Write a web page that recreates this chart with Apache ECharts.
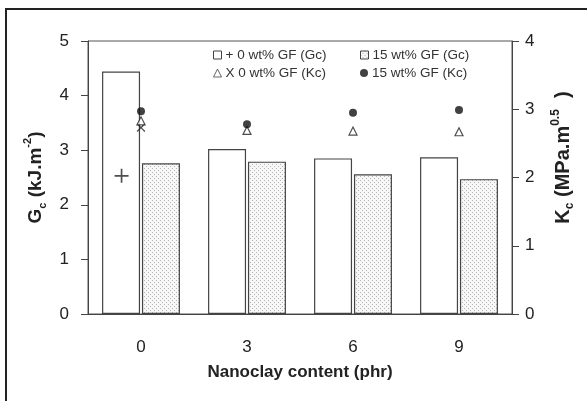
<!DOCTYPE html>
<html>
<head>
<meta charset="utf-8">
<script src="https://cdn.jsdelivr.net/npm/echarts@6/dist/echarts.min.js"></script>
<style>
	html, body { margin: 0; padding: 0; background: #fff; }
	#chart { width: 587px; height: 401px; }
</style>
</head>
<body>
<div id="chart"></div>
<script>
// 数据
var categories = ['0', '3', '6', '9'];
var gc0 = [4.44, 3.02, 2.85, 2.87];     // 0 wt% GF (Gc), 白柱
var gc15 = [2.76, 2.79, 2.56, 2.47];    // 15 wt% GF (Gc), 点柱
var kc0 = [2.83, 2.69, 2.68, 2.67];     // 0 wt% GF (Kc), 三角
var kc15 = [2.97, 2.78, 2.95, 2.99];    // 15 wt% GF (Kc), 圆点
var plusPts = [[-0.55, 2.53]];          // "+" 0 wt% GF (Gc)
var crossPts = [[0, 2.73]];             // "X" 0 wt% GF (Kc)

var FONT = 'Liberation Sans, Arial, sans-serif';
var INK = '#222';

// 点状填充
function dotPattern() {
	var c = document.createElement('canvas');
	c.width = 4;
	c.height = 4;
	var ctx = c.getContext('2d');
	ctx.fillStyle = '#f7f7f7';
	ctx.fillRect(0, 0, 4, 4);
	ctx.fillStyle = '#b4b4b4';
	ctx.fillRect(0, 0, 1, 1);
	ctx.fillRect(2, 2, 1, 1);
	return c;
}
var dots = { image: dotPattern(), repeat: 'repeat' };

// 实心的细十字，X 用旋转 45 度
var PLUS = 'path://M4.4,0L5.6,0L5.6,4.4L10,4.4L10,5.6L5.6,5.6L5.6,10L4.4,10L4.4,5.6L0,5.6L0,4.4L4.4,4.4Z';

function legendAt(left, top, name, icon, style) {
	return {
		left: left,
		top: top,
		itemWidth: 8,
		itemHeight: 8,
		itemGap: 4,
		selectedMode: false,
		data: [{ name: name, icon: icon, itemStyle: style }],
		formatter: function (n) {
			if (n === '0 wt% GF (Gc)') return '+ 0 wt% GF (Gc)';
			if (n === '0 wt% GF (Kc)') return 'X 0 wt% GF (Kc)';
			return n;
		},
		textStyle: { fontFamily: FONT, fontSize: 13.5, color: '#333', padding: [0, 0, 0, -1] }
	};
}

function axisName(size, small) {
	return {
		fontFamily: FONT,
		color: INK,
		rich: {
			b: { fontFamily: FONT, fontSize: size, fontWeight: 'bold', color: INK, lineHeight: 26 },
			sub: { fontFamily: FONT, fontSize: small, fontWeight: 'bold', color: INK, verticalAlign: 'bottom', lineHeight: 26 },
			sup: { fontFamily: FONT, fontSize: small, fontWeight: 'bold', color: INK, verticalAlign: 'top', lineHeight: 26 }
		}
	};
}

var option = {
	animation: false,
	backgroundColor: '#fff',
	graphic: [
		{ type: 'line', shape: { x1: 5, y1: 9, x2: 587, y2: 9 }, style: { stroke: INK, lineWidth: 2 } },
		{ type: 'line', shape: { x1: 6, y1: 9, x2: 6, y2: 401 }, style: { stroke: INK, lineWidth: 2 } }
	],
	legend: [
		legendAt(208, 43, '0 wt% GF (Gc)', 'rect', { color: '#fff', borderColor: '#444', borderWidth: 1 }),
		legendAt(355, 43, '15 wt% GF (Gc)', 'rect', { color: dots, borderColor: '#444', borderWidth: 1 }),
		legendAt(208, 61, '0 wt% GF (Kc)', 'triangle', { color: '#fff', borderColor: '#444', borderWidth: 1 }),
		legendAt(355, 61, '15 wt% GF (Kc)', 'circle', { color: '#111' })
	],
	grid: {
		left: 88,
		right: 75,
		top: 41,
		bottom: 87,
		show: true,
		borderColor: '#555',
		borderWidth: 1
	},
	xAxis: [{
		type: 'category',
		data: categories,
		axisLine: { lineStyle: { color: '#444', width: 1 } },
		axisTick: { length: 9, lineStyle: { color: '#444' } },
		axisLabel: { margin: 25, fontFamily: FONT, fontSize: 17, color: INK },
		name: 'Nanoclay content (phr)',
		nameLocation: 'middle',
		nameGap: 50,
		nameTextStyle: { fontFamily: FONT, fontSize: 17, fontWeight: 'bold', color: INK }
	}, {
		type: 'value',
		min: -1.5,
		max: 10.5,
		show: false
	}],
	yAxis: [{
		type: 'value',
		min: 0,
		max: 5,
		interval: 1,
		splitLine: { show: false },
		axisLine: { show: true, onZero: false, lineStyle: { color: '#444' } },
		axisTick: { show: true, length: 7, lineStyle: { color: '#444' } },
		axisLabel: { margin: 19, fontFamily: FONT, fontSize: 17, color: INK },
		name: '{b|G}{sub|c}{b| (kJ.m}{sup|-2}{b|)}',
		nameLocation: 'middle',
		nameRotate: 90,
		nameGap: 36,
		nameTextStyle: axisName(19, 11)
	}, {
		type: 'value',
		min: 0,
		max: 4,
		interval: 1,
		position: 'right',
		splitLine: { show: false },
		axisLine: { show: true, onZero: false, lineStyle: { color: '#444' } },
		axisTick: { show: true, length: 7, lineStyle: { color: '#444' } },
		axisLabel: { margin: 13, fontFamily: FONT, fontSize: 17, color: INK },
		name: '{b|K}{sub|c}{b| (MPa.m}{sup|0.5}{b|  )}',
		nameLocation: 'middle',
		nameRotate: 90,
		nameGap: 38,
		nameTextStyle: Object.assign(axisName(20, 12), { padding: [0, 0, 0, 40] })
	}],
	series: [{
		name: '0 wt% GF (Gc)',
		type: 'bar',
		data: gc0,
		barWidth: 38,
		barGap: '5%',
		itemStyle: { color: '#fff', borderColor: '#444', borderWidth: 1.2 }
	}, {
		name: '15 wt% GF (Gc)',
		type: 'bar',
		data: gc15,
		barWidth: 38,
		barGap: '5%',
		itemStyle: { color: dots, borderColor: '#444', borderWidth: 1.2 }
	}, {
		name: '0 wt% GF (Gc)',
		type: 'scatter',
		xAxisIndex: 1,
		data: plusPts,
		symbol: PLUS,
		symbolSize: 14,
		itemStyle: { color: INK }
	}, {
		name: '0 wt% GF (Kc)',
		type: 'scatter',
		yAxisIndex: 1,
		data: crossPts,
		symbol: PLUS,
		symbolSize: 11,
		symbolRotate: 45,
		itemStyle: { color: INK }
	}, {
		name: '0 wt% GF (Kc)',
		type: 'scatter',
		yAxisIndex: 1,
		data: kc0,
		symbol: 'triangle',
		symbolSize: 8,
		itemStyle: { color: '#fff', borderColor: INK, borderWidth: 1.2 }
	}, {
		name: '15 wt% GF (Kc)',
		type: 'scatter',
		yAxisIndex: 1,
		data: kc15,
		symbol: 'circle',
		symbolSize: 8,
		itemStyle: { color: '#111' }
	}]
};

var chart = echarts.init(document.getElementById('chart'), null, { renderer: 'canvas' });
chart.setOption(option);
</script>
</body>
</html>
